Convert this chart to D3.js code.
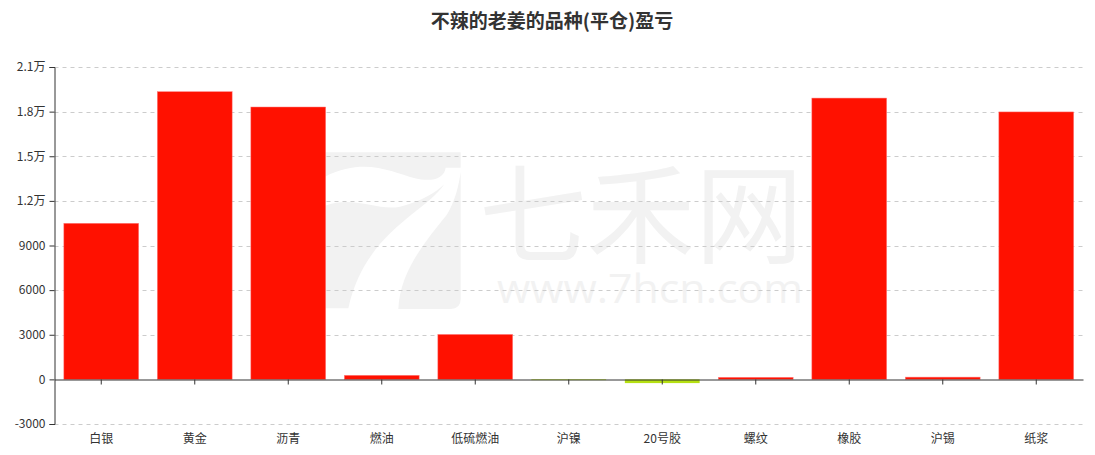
<!DOCTYPE html>
<html>
<head>
<meta charset="utf-8">
<script src="https://cdn.jsdelivr.net/npm/d3@7"></script>
<style>
  html, body { margin: 0; padding: 0; background: #fff; }
  svg { display: block; font-family: "Noto Sans CJK SC", "Microsoft YaHei", sans-serif; }
</style>
</head>
<body>
<svg id="chart" width="1095" height="455"></svg>
<script>
const titleText = "不辣的老姜的品种(平仓)盈亏";
const categories = ["白银", "黄金", "沥青", "燃油", "低硫燃油", "沪镍", "20号胶", "螺纹", "橡胶", "沪锡", "纸浆"];
const profits = [10490, 19340, 18310, 270, 3020, -50, -250, 135, 18910, 150, 17980];
const yTicks = [-3000, 0, 3000, 6000, 9000, 12000, 15000, 18000, 21000];
const yTickLabels = ["-3000", "0", "3000", "6000", "9000", "1.2万", "1.5万", "1.8万", "2.1万"];

const svg = d3.select("#chart");
const W = 1095, H = 455;
const m = { left: 54.5, right: 12, top: 67, bottom: 31 };
const x0 = m.left, x1 = W - m.right;

const y = d3.scaleLinear().domain([-3000, 21000]).range([424, 67]);
const x = d3.scaleBand().domain(categories).range([x0, x1]).paddingInner(0.2).paddingOuter(0.1);
const xc = d3.scaleBand().domain(categories).range([x0, x1]);

// watermark (behind everything)
const wm = svg.append("g").attr("fill", "#f2f2f2");
const logo = wm.append("g").attr("transform", "translate(315,145) scale(0.3333)");
logo.append("path").attr("d", "M30,22 L437,22 L437,68 L392,68 C388,100 352,112 300,100 C230,82 150,35 30,95 Z");
logo.append("path").attr("d", "M30,182 C120,150 190,200 255,185 C320,170 365,140 388,118 C330,205 150,260 100,490 L30,490 Z");
logo.append("path").attr("d", "M437,80 L437,462 Q437,492 407,492 L250,492 C255,380 330,290 395,210 C420,170 432,120 437,80 Z");
wm.append("text").attr("x", 641).attr("y", 208).attr("text-anchor", "middle").attr("dominant-baseline", "central")
  .attr("font-size", 108).attr("font-family", "Noto Sans CJK SC").attr("font-weight", 400).text("七禾网");
wm.append("text").attr("x", 497).attr("y", 303).attr("font-size", 40).attr("font-family", "Open Sans")
  .attr("textLength", 306).attr("lengthAdjust", "spacingAndGlyphs").text("www.7hcn.com");

// gridlines
svg.append("g").selectAll("line").data(yTicks.filter(d => d !== 0)).join("line")
  .attr("x1", x0).attr("x2", x1 + 1)
  .attr("y1", d => Math.round(y(d)) + 0.5).attr("y2", d => Math.round(y(d)) + 0.5)
  .attr("stroke", "#ccc").attr("stroke-dasharray", "4,4");

// bars
svg.append("g").selectAll("rect").data(categories).join("rect")
  .attr("x", (d) => x(d))
  .attr("width", x.bandwidth())
  .attr("y", (d, i) => y(Math.max(0, profits[i])))
  .attr("height", (d, i) => Math.abs(y(profits[i]) - y(0)))
  .attr("fill", (d, i) => profits[i] >= 0 ? "#ff1100" : "#b5e012")
  .attr("stroke", (d, i) => profits[i] >= 0 ? "rgba(255,120,120,0.8)" : "none")
  .attr("stroke-width", 0.6);

// y axis
const yAxis = d3.axisLeft(y).tickValues(yTicks).tickSize(5).tickPadding(4)
  .tickFormat((d, i) => yTickLabels[i]);
const gy = svg.append("g").attr("transform", `translate(${x0},0)`).call(yAxis);
gy.select(".domain").attr("stroke", "#333");
gy.selectAll(".tick line").attr("stroke", "#333");
gy.selectAll("text").attr("fill", "#333").attr("font-size", 12).attr("font-family", "Noto Sans CJK SC");

// x axis at zero
const xAxis = d3.axisBottom(xc).tickSize(5).tickSizeOuter(0).tickFormat(() => "");
const gx = svg.append("g").attr("transform", `translate(0,${Math.round(y(0)) + 0.5})`).call(xAxis);
gx.select(".domain").attr("stroke", "#333");
gx.selectAll(".tick line").attr("stroke", "#333");

// x labels
svg.append("g").selectAll("text").data(categories).join("text")
  .attr("x", d => xc(d) + xc.bandwidth() / 2)
  .attr("y", 437).attr("text-anchor", "middle").attr("dominant-baseline", "central")
  .attr("font-size", 12).attr("fill", "#333").text(d => d);

// title
svg.append("text").attr("x", 552).attr("y", 19.5).attr("text-anchor", "middle").attr("dominant-baseline", "central")
  .attr("font-size", 19).attr("font-weight", "bold").attr("fill", "#333").text(titleText);
</script>
</body>
</html>
